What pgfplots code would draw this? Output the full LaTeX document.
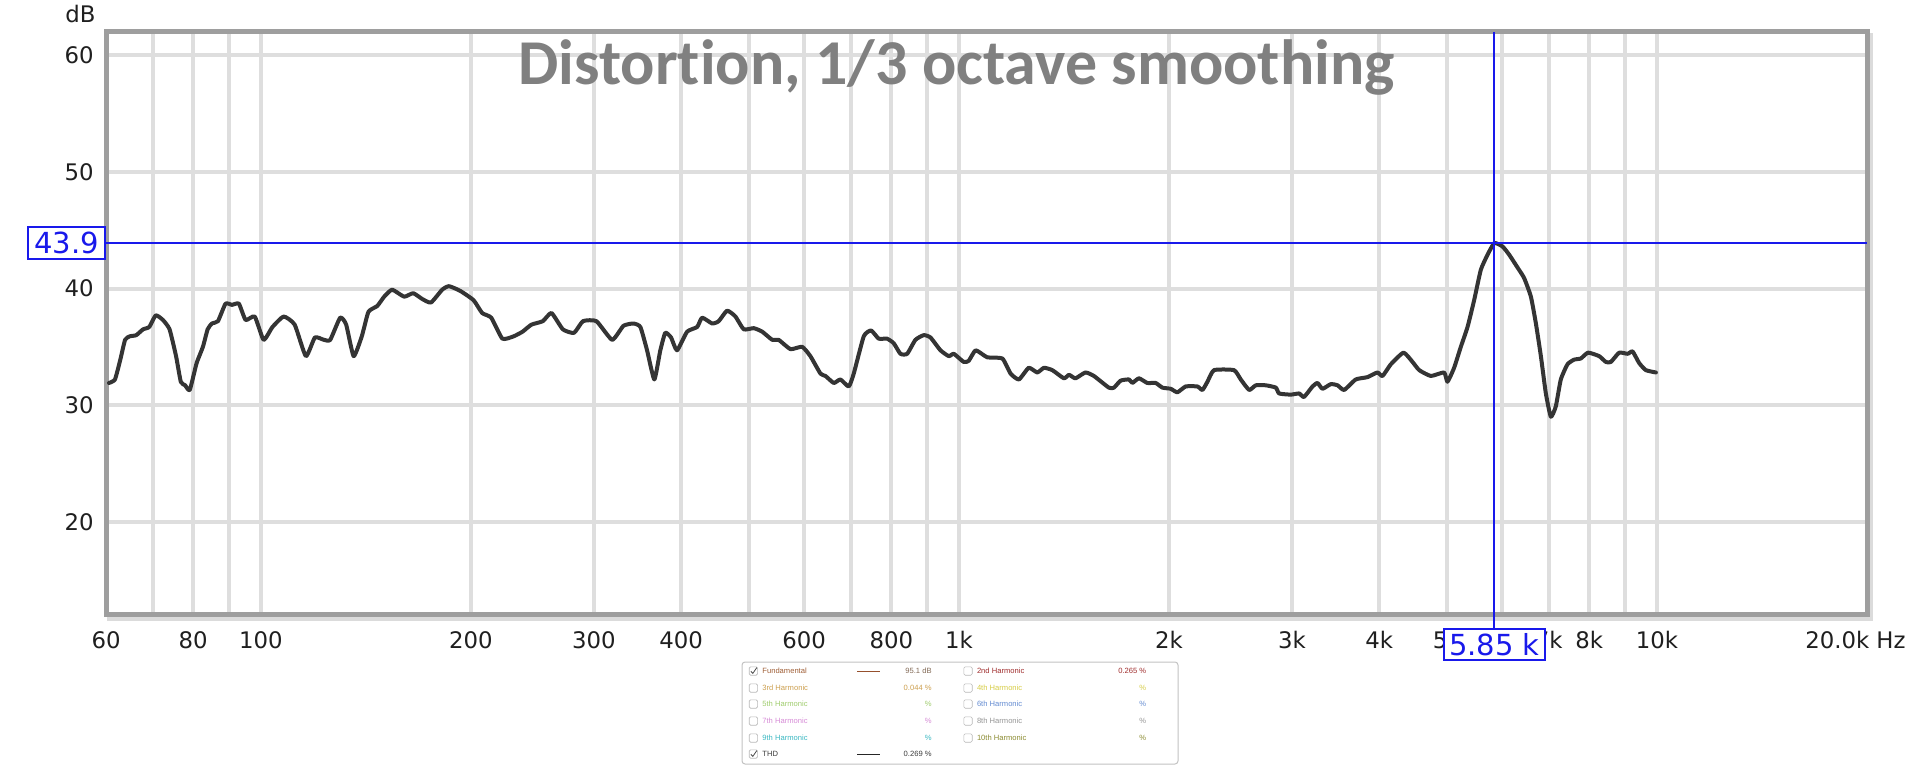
\documentclass[border=0pt]{standalone}
\usepackage{pgfplots}
\pgfplotsset{compat=1.18}
\usepackage{fontspec}
\setmainfont{DejaVu Sans}
\newfontfamily\titlefont[Ligatures={NoCommon,NoRare,NoDiscretionary}]{Carlito}
\newfontfamily\legfont{Liberation Sans}
\definecolor{gridc}{RGB}{222,222,222}
\definecolor{curvec}{RGB}{52,52,52}
\definecolor{cur}{RGB}{25,25,235}
\definecolor{bord}{RGB}{158,158,158}
\definecolor{titlec}{RGB}{128,128,128}
\definecolor{legb}{RGB}{195,195,195}
\definecolor{cFund}{RGB}{160,95,55}
\definecolor{cFundL}{RGB}{150,80,45}
\definecolor{cFundV}{RGB}{130,105,85}
\definecolor{c2}{RGB}{160,45,45}
\definecolor{c3}{RGB}{205,160,80}
\definecolor{c4}{RGB}{215,205,70}
\definecolor{c5}{RGB}{160,205,110}
\definecolor{c6}{RGB}{100,140,210}
\definecolor{c7}{RGB}{215,140,215}
\definecolor{c8}{RGB}{150,150,150}
\definecolor{c9}{RGB}{60,185,195}
\definecolor{c10}{RGB}{140,140,50}
\definecolor{cthd}{RGB}{60,60,60}
\newcommand{\lf}{\legfont\fontsize{3.8}{4.5}\selectfont}
\newcommand{\tf}{\fontsize{11.4}{13}\selectfont}

\pgfplotstableread{
f dB
60.6 31.9
61.8 32.2
62.9 33.9
63.9 35.6
64.9 35.9
66.3 36.0
67.8 36.5
69.2 36.7
70.7 37.7
72.4 37.3
74.0 36.5
75.6 34.2
76.8 32.0
77.9 31.7
79.1 31.3
80.9 33.6
82.6 35.0
83.9 36.5
85.1 37.0
86.8 37.2
89.0 38.7
90.9 38.6
93.0 38.7
95.1 37.3
98.0 37.6
100.9 35.6
103.9 36.7
107.8 37.6
111.8 36.9
116.0 34.2
119.5 35.8
123.1 35.6
125.7 35.6
129.9 37.5
132.5 36.9
135.8 34.2
139.5 35.9
142.6 38.0
146.8 38.5
150.2 39.3
154.2 39.9
160.4 39.3
165.3 39.6
170.3 39.1
175.3 38.8
181.9 39.9
186.0 40.2
193.0 39.8
201.7 39.0
207.5 37.9
213.8 37.5
221.8 35.7
230.2 35.9
237.1 36.3
244.1 36.9
253.5 37.2
260.8 37.9
270.8 36.5
281.0 36.2
289.4 37.2
302.5 37.2
318.6 35.6
330.7 36.8
341.7 37.0
349.7 36.7
357.5 34.7
366.2 32.2
373.5 34.7
379.7 36.2
387.0 35.8
394.7 34.7
408.0 36.3
421.7 36.7
428.7 37.5
443.1 37.0
452.8 37.2
465.5 38.1
478.4 37.6
491.8 36.5
508.2 36.6
522.6 36.3
540.2 35.6
551.8 35.6
573.7 34.8
596.3 35.0
612.7 34.2
633.5 32.7
644.0 32.5
661.9 31.9
676.6 32.2
695.4 31.6
706.9 32.7
730.7 35.9
748.7 36.4
767.7 35.7
789.2 35.7
806.7 35.3
824.7 34.4
843.1 34.4
866.5 35.6
890.6 36.0
910.5 35.8
941.1 34.7
967.3 34.2
983.5 34.4
1016 33.7
1033 33.8
1057 34.7
1098 34.1
1154 34.0
1186 32.7
1219 32.2
1259 33.2
1295 32.8
1324 33.2
1361 33.0
1414 32.3
1438 32.6
1469 32.3
1518 32.8
1561 32.5
1640 31.5
1668 31.5
1705 32.1
1753 32.2
1772 31.9
1811 32.3
1862 31.9
1914 31.9
1957 31.5
2011 31.4
2056 31.1
2113 31.6
2196 31.6
2233 31.3
2270 32.0
2320 33.0
2478 33.0
2534 32.2
2605 31.3
2663 31.7
2752 31.7
2845 31.5
2876 31.0
2989 30.9
3072 31.0
3122 30.7
3211 31.6
3264 31.9
3318 31.4
3410 31.8
3487 31.7
3564 31.3
3703 32.2
3849 32.4
3978 32.8
4045 32.5
4157 33.5
4335 34.5
4466 33.7
4565 33.0
4744 32.5
4956 32.8
5011 32.0
5122 33.2
5237 35.0
5354 36.7
5472 39.0
5594 41.6
5720 42.9
5850 43.9
6010 43.6
6143 42.9
6314 41.8
6453 40.9
6599 39.3
6709 37.0
6820 34.2
6933 31.0
7048 29.0
7165 29.9
7284 32.2
7446 33.5
7611 33.9
7782 34.0
7970 34.5
8265 34.2
8450 33.7
8590 33.7
8830 34.5
9078 34.4
9229 34.6
9433 33.6
9642 33.0
9966 32.8
}\thd

\begin{document}
\begin{tikzpicture}
% drop shadow of the plot frame
\draw[gray!28, line width=2.5pt] (1.6pt,-1.8pt) rectangle (882.1pt,289.7pt);
\begin{axis}[
  scale only axis, width=880.5pt, height=291.5pt,
  at={(0pt,0pt)}, anchor=south west,
  xmode=log, log basis x=10,
  xmin=60, xmax=20000, ymin=12, ymax=62,
  axis background/.style={fill=white},
  axis line style={draw=bord, line width=2.5pt},
  grid=major, major grid style={draw=gridc, line width=2pt},
  major tick length=0pt, minor tick length=0pt, minor xtick={}, minor ytick={},
  xtick={60,70,80,90,100,200,300,400,500,600,700,800,900,1000,2000,3000,4000,5000,6000,7000,8000,9000,10000},
  xticklabels={60,,80,,100,200,300,400,,600,,800,,1k,2k,3k,4k,5k,,7k,8k,,10k},
  ytick={20,30,40,50,60},
  yticklabels={20,30,40,50,60},
  xticklabel style={anchor=base, yshift=-16.65pt, inner sep=0pt, font=\tf, text=black!88},
  yticklabel style={anchor=base east, xshift=-6pt, yshift=-4.15pt, inner sep=0pt, font=\tf, text=black!88},
  clip=false,
]
\addplot[color=curvec, line width=2pt, line join=round, line cap=round, smooth, tension=0.3] table[x=f, y=dB] {\thd};
% cursor
\draw[cur, line width=1pt] (axis cs:60,43.9) -- (axis cs:20000,43.9);
\draw[cur, line width=1pt] (axis cs:5850,62) -- (axis cs:5850,12) -- ++(0pt,-7pt);
\node[draw=cur, fill=white, line width=1pt, text=cur, anchor=east, minimum width=38.5pt,
      minimum height=16pt, inner sep=1pt, font=\fontsize{14.5}{16}\selectfont] at (axis cs:60,43.9) {43.9};
\node[draw=cur, fill=white, line width=1pt, text=cur, anchor=north, minimum width=50.5pt,
      minimum height=15.5pt, inner sep=1pt, font=\fontsize{14.5}{16}\selectfont] at ([yshift=-6.5pt]axis cs:5850,12) {5.85 k};
\end{axis}

% title
\node[anchor=base, inner sep=0pt, text=titlec] at (425.25pt,265pt)
  {\resizebox{438pt}{!}{\titlefont\bfseries\fontsize{32}{36}\selectfont Distort\kern0pt ion, 1/3 octave smoot\kern0pt hing}};
% axis unit labels
\node[anchor=east, inner sep=0pt, font=\tf, text=black!88] at (-5pt,300.5pt) {dB};
\node[anchor=base east, inner sep=0pt, font=\tf, text=black!88] at (900pt,-16.65pt) {20.0k Hz};

% legend panel
\draw[legb, line width=0.5pt, rounded corners=1.5pt, fill=white] (318pt,-23.5pt) rectangle (536pt,-74.5pt);
% checkboxes
\foreach \yy in {-28,-36.5,-44.5,-53,-61.5,-69.5} {
  \draw[gray!55, line width=0.3pt, rounded corners=0.7pt, fill=white] (321.6pt,\yy pt-2.1pt) rectangle (325.8pt,\yy pt+2.1pt);
}
\foreach \yy in {-28,-36.5,-44.5,-53,-61.5} {
  \draw[gray!55, line width=0.3pt, rounded corners=0.7pt, fill=white] (428.9pt,\yy pt-2.1pt) rectangle (433.1pt,\yy pt+2.1pt);
}
\draw[black!70, line width=0.4pt] (322.4pt,-28.1pt) -- (323.4pt,-29.2pt) -- (325.4pt,-26.3pt);
\draw[black!70, line width=0.4pt] (322.4pt,-69.6pt) -- (323.4pt,-70.7pt) -- (325.4pt,-67.8pt);
% line samples
\draw[cFundL, line width=0.5pt] (375.5pt,-28pt) -- (387pt,-28pt);
\draw[black!85, line width=0.5pt] (375.5pt,-69.5pt) -- (387pt,-69.5pt);
% column 1 labels
\node[anchor=west, inner sep=0pt, font=\lf, text=cFund] at (328pt,-28pt) {Fundamental};
\node[anchor=west, inner sep=0pt, font=\lf, text=c3] at (328pt,-36.5pt) {3rd Harmonic};
\node[anchor=west, inner sep=0pt, font=\lf, text=c5] at (328pt,-44.5pt) {5th Harmonic};
\node[anchor=west, inner sep=0pt, font=\lf, text=c7] at (328pt,-53pt) {7th Harmonic};
\node[anchor=west, inner sep=0pt, font=\lf, text=c9] at (328pt,-61.5pt) {9th Harmonic};
\node[anchor=west, inner sep=0pt, font=\lf, text=cthd] at (328pt,-69.5pt) {THD};
% column 1 values
\node[anchor=east, inner sep=0pt, font=\lf, text=cFundV] at (413pt,-28pt) {95.1 dB};
\node[anchor=east, inner sep=0pt, font=\lf, text=c3] at (413pt,-36.5pt) {0.044 \%};
\node[anchor=east, inner sep=0pt, font=\lf, text=c5] at (413pt,-44.5pt) {\%};
\node[anchor=east, inner sep=0pt, font=\lf, text=c7] at (413pt,-53pt) {\%};
\node[anchor=east, inner sep=0pt, font=\lf, text=c9] at (413pt,-61.5pt) {\%};
\node[anchor=east, inner sep=0pt, font=\lf, text=cthd] at (413pt,-69.5pt) {0.269 \%};
% column 2 labels
\node[anchor=west, inner sep=0pt, font=\lf, text=c2] at (435.3pt,-28pt) {2nd Harmonic};
\node[anchor=west, inner sep=0pt, font=\lf, text=c4] at (435.3pt,-36.5pt) {4th Harmonic};
\node[anchor=west, inner sep=0pt, font=\lf, text=c6] at (435.3pt,-44.5pt) {6th Harmonic};
\node[anchor=west, inner sep=0pt, font=\lf, text=c8] at (435.3pt,-53pt) {8th Harmonic};
\node[anchor=west, inner sep=0pt, font=\lf, text=c10] at (435.3pt,-61.5pt) {10th Harmonic};
% column 2 values
\node[anchor=east, inner sep=0pt, font=\lf, text=c2] at (520.3pt,-28pt) {0.265 \%};
\node[anchor=east, inner sep=0pt, font=\lf, text=c4] at (520.3pt,-36.5pt) {\%};
\node[anchor=east, inner sep=0pt, font=\lf, text=c6] at (520.3pt,-44.5pt) {\%};
\node[anchor=east, inner sep=0pt, font=\lf, text=c8] at (520.3pt,-53pt) {\%};
\node[anchor=east, inner sep=0pt, font=\lf, text=c10] at (520.3pt,-61.5pt) {\%};

\pgfresetboundingbox
\useasboundingbox (-53pt,-75pt) rectangle (907pt,307.5pt);
\end{tikzpicture}
\end{document}
